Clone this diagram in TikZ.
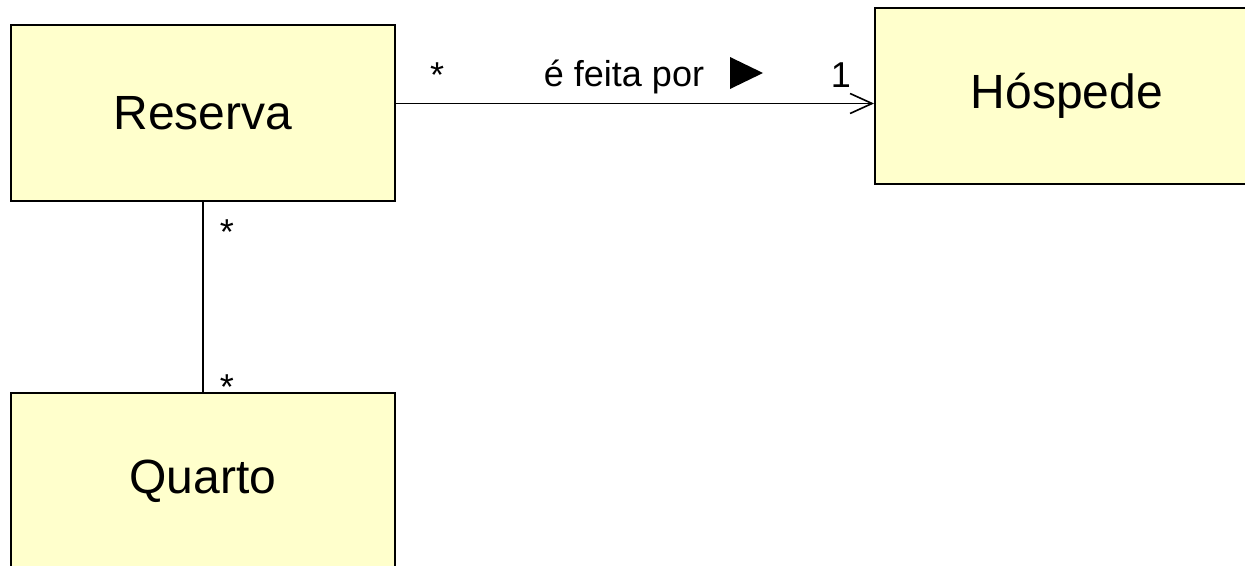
\documentclass[tikz,border=0pt]{standalone}
\usepackage{fontspec}
\setmainfont{Liberation Sans}
\usetikzlibrary{arrows.meta}
\definecolor{classfill}{HTML}{FFFFCC}
\tikzset{
  classbox/.style={draw=black, line width=2pt, fill=classfill, rectangle,
    minimum width=384pt, minimum height=176pt, inner sep=0pt,
    font=\fontsize{48}{54}\selectfont},
  assoc/.style={draw=black, line width=1.6pt},
  rotulo/.style={anchor=base, inner sep=0pt, font=\fontsize{36}{40}\selectfont}
}

\begin{document}
\begin{tikzpicture}[x=1pt, y=-1pt]
				%%%%% START %%%%%
				\useasboundingbox (0, 0) rectangle (1245, 565);
				
				\node[classbox] (reserva) at (203, 113) {Reserva};
				\node[classbox] (hospede) at (1067, 96) {Hóspede};
				\node[classbox] (quarto) at (203, 481) {Quarto};
				
				\coordinate (nivel) at (0, 103.5);
				\draw[assoc, -{Straight Barb[length=22pt, width=20pt, line width=1.6pt]}]
					(reserva.east |- nivel) -- (hospede.west |- nivel);
				\draw[assoc] (reserva.south) -- (quarto.north);
				
				\node[rotulo] (multA) at (437, 87) {*};
				\node[rotulo] (feita) at (624, 86) {é feita por};
				\fill (730, 57) -- (730, 89) -- (763, 73) -- cycle;
				\node[rotulo] (multB) at (841, 87) {1};
				
				\node[rotulo] (multC) at (227, 244) {*};
				\node[rotulo] (multD) at (227, 399) {*};
				%%%%% END %%%%%
\end{tikzpicture}
\end{document}
